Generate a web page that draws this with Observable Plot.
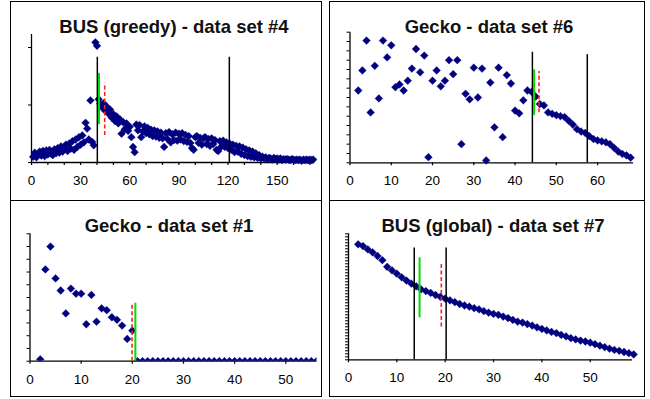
<!DOCTYPE html>
<html><head><meta charset="utf-8">
<script src="https://cdn.jsdelivr.net/npm/d3@7"></script>
<script src="https://cdn.jsdelivr.net/npm/@observablehq/plot@0.6"></script>
<style>
body{margin:0;background:#fff;}
#page{position:relative;width:650px;height:399px;overflow:hidden;font-family:"Liberation Sans",Arial,sans-serif;background:#fff;}
.panel{position:absolute;}
#overlay{position:absolute;left:0;top:0;pointer-events:none;}
</style></head><body><div id="page"></div>
<script>
// ---- titles ----
const titles = ["BUS (greedy) - data set #4", "Gecko - data set #6", "Gecko - data set #1", "BUS (global) - data set #7"];

// ---- BUS (greedy) - data set #4 (categories 1..172) ----
const bus4Start = 1;
const bus4Y = [
 0.10,0.17,0.09,0.15,0.19,0.12,0.20,0.11,0.21,0.14,
 0.22,0.15,0.13,0.23,0.16,0.25,0.17,0.28,0.19,0.27,
 0.31,0.20,0.33,0.24,0.37,0.22,0.40,0.27,0.44,0.31,
 0.47,0.35,0.69,0.59,0.40,1.08,0.36,0.30,2.09,2.03,
 1.10,1.02,0.96,1.03,0.90,0.97,0.85,0.92,0.78,0.84,
 0.72,0.80,0.68,0.75,0.50,0.70,0.58,0.68,0.55,0.62,
 0.44,0.27,0.18,0.66,0.56,0.65,0.44,0.54,0.63,0.51,
 0.60,0.49,0.57,0.46,0.56,0.45,0.54,0.43,0.52,0.42,
 0.27,0.51,0.41,0.53,0.35,0.49,0.39,0.52,0.38,0.50,
 0.40,0.51,0.37,0.48,0.36,0.46,0.34,0.25,0.22,0.44,
 0.46,0.34,0.43,0.31,0.42,0.44,0.32,0.41,0.29,0.42,
 0.32,0.39,0.22,0.20,0.37,0.28,0.38,0.27,0.35,0.25,
 0.33,0.22,0.31,0.18,0.29,0.19,0.28,0.15,0.26,0.13,
 0.23,0.11,0.21,0.10,0.19,0.09,0.16,0.08,0.13,0.07,
 0.10,0.07,0.09,0.06,0.08,0.07,0.05,0.08,0.06,0.07,
 0.05,0.07,0.04,0.06,0.05,0.06,0.05,0.04,0.06,0.05,
 0.04,0.05,0.04,0.05,0.03,0.05,0.04,0.05,0.04,0.05,
 0.04,0.05];
const bus4XTicks = [0,10,20,30,40,50,60,70,80,90,100,110,120,130,140,150,160,170];
const bus4XLabels = [0,30,60,90,120,150];
const bus4YTicks = [0,1,2];
const bus4Black = [{x:40.2,y1:0,y2:1.83},{x:120.8,y1:0,y2:1.83}];
const bus4Green = [{x:41.2,y1:0.66,y2:1.55}];
const bus4Red = [{x:44.7,y1:0.47,y2:1.38}];

// ---- Gecko - data set #6 (categories 2..68) ----
const gecko6Start = 2;
const gecko6Y = [
 7.75,9.9,13.1,5.4,10.4,6.9,13.1,11.3,12.6,8.1,
 8.4,7.75,8.8,10.1,12.2,9.7,11.5,0.6,8.8,9.9,
 8.2,8.8,11.0,9.5,11.0,2.0,7.4,6.8,10.2,7.0,
 10.1,0.25,8.6,3.8,10.2,2.75,9.4,8.5,5.6,5.3,
 6.7,7.75,7.6,7.1,6.3,6.15,5.4,5.25,5.1,5.0,
 4.9,4.5,4.1,3.6,3.35,3.2,2.85,2.55,2.4,2.3,
 2.2,2.0,1.6,1.2,0.95,0.8,0.55];
const gecko6XLabels = [0,10,20,30,40,50,60];
const gecko6YTicks = [0,1,2,3,4,5,6,7,8,9,10,11,12,13,14];
const gecko6Black = [{x:44.2,y1:0,y2:11.85},{x:57.5,y1:0,y2:11.6}];
const gecko6Green = [{x:44.6,y1:5.07,y2:9.97}];
const gecko6Red = [{x:45.8,y1:5.36,y2:9.8}];

// ---- Gecko - data set #1 (categories 2..56) ----
const gecko1Start = 2;
const gecko1Y = [
 0.15,7.2,9.0,6.5,5.55,3.75,5.7,5.3,5.3,2.9,
 5.2,3.1,4.15,4.0,3.45,3.25,2.8,1.75,2.4,0,
 0,0,0,0,0,0,0,0,0,0,
 0,0,0,0,0,0,0,0,0,0,
 0,0,0,0,0,0,0,0,0,0,
 0,0,0,0,0];
const gecko1XLabels = [0,10,20,30,40,50];
const gecko1YTicks = [0,1,2,3,4,5,6,7,8,9,10];
const gecko1Green = [{x:20.6,y1:0,y2:4.55}];
const gecko1Red = [{x:19.95,y1:0,y2:4.55}];

// ---- BUS (global) - data set #7 (categories 2..59) ----
const bus7Start = 2;
const bus7Y = [
 38.5,37.9,36.8,35.8,34.6,33.2,31.0,29.8,28.7,27.5,
 26.4,25.4,24.5,23.5,22.9,22.3,21.6,21.0,20.4,19.8,
 19.2,18.6,18.1,17.7,17.2,16.8,16.2,15.7,15.3,15.0,
 14.4,13.9,13.3,12.7,12.4,11.9,11.4,10.8,10.3,9.8,
 9.3,8.9,8.3,7.8,7.2,6.8,6.4,6.1,5.7,5.2,
 4.7,4.2,3.7,3.3,3.0,2.6,2.2,1.8];
const bus7XLabels = [0,10,20,30,40,50];
const bus7YTicks = d3.range(0, 43);
const bus7Black = [{x:13.6,y1:0,y2:37.3},{x:20.2,y1:0,y2:37.3}];
const bus7Green = [{x:14.7,y1:14.0,y2:34.0}];
const bus7Red = [{x:19.2,y1:10.9,y2:32.0}];

// ---- drawing ----
const page = document.getElementById("page");
const NAVY = "#000080";
const FONT = "Liberation Sans, Arial, sans-serif";

function toRows(start, ys) { return ys.map((y, i) => ({x: start + i, y})); }

function panel(o) {
  const marks = [
    Plot.ruleY([0], {stroke: "black", strokeWidth: 1.3}),
    Plot.ruleX([0], {stroke: "black", strokeWidth: 1.3}),
    Plot.axisX(o.xTicks, {anchor: "bottom", label: null, tickSize: 3, strokeWidth: 1.2, tickFormat: () => ""}),
    Plot.axisX(o.xLabels, {anchor: "bottom", label: null, tickSize: 0, tickPadding: 13, fontSize: 13.5, fill: "black", tickFormat: d => String(d)}),
    Plot.axisY(o.yTicks, {anchor: "left", label: null, tickSize: 3, strokeWidth: 1, tickFormat: () => ""}),
    Plot.dot(o.rows, {x: "x", y: "y", symbol: "diamond2", r: 3.5, fill: NAVY, stroke: NAVY, strokeWidth: 0.4, clip: o.clip || false}),
    Plot.ruleX(o.black || [], {x: "x", y1: "y1", y2: "y2", stroke: "black", strokeWidth: 1.5}),
    Plot.ruleX(o.green || [], {x: "x", y1: "y1", y2: "y2", stroke: "#00dd00", strokeWidth: 2}),
    Plot.ruleX(o.red || [], {x: "x", y1: "y1", y2: "y2", stroke: "#ff2020", strokeWidth: 1.6, strokeDasharray: "4,2.5"})
  ];
  const svg = Plot.plot({
    width: o.width, height: o.height,
    marginLeft: o.m[0], marginRight: o.m[1], marginTop: o.m[2], marginBottom: o.m[3],
    x: {domain: o.xDomain, axis: null, label: null},
    y: {domain: o.yDomain, axis: null, label: null},
    style: {background: "transparent", overflow: "visible", fontFamily: FONT, fontSize: "13.5px", color: "black"},
    marks
  });
  const div = document.createElement("div");
  div.className = "panel";
  div.style.left = o.left + "px"; div.style.top = o.top + "px";
  div.style.width = o.width + "px"; div.style.height = o.height + "px";
  div.appendChild(svg);
  page.appendChild(div);
}

panel({left: 11, top: 2, width: 309, height: 197, m: [20, 6.5, 32, 37],
  xDomain: [0, 172.5], yDomain: [0, 2.226],
  rows: toRows(bus4Start, bus4Y), xTicks: bus4XTicks, xLabels: bus4XLabels, yTicks: bus4YTicks,
  black: bus4Black, green: bus4Green, red: bus4Red});

panel({left: 330, top: 2, width: 313, height: 197, m: [19.5, 10, 29.7, 36.7],
  xDomain: [0, 68.7], yDomain: [0, 14],
  rows: toRows(gecko6Start, gecko6Y), xTicks: gecko6XLabels, xLabels: gecko6XLabels, yTicks: gecko6YTicks,
  black: gecko6Black, green: gecko6Green, red: gecko6Red});

panel({left: 11, top: 201, width: 309, height: 195, m: [18.5, 3.5, 32.3, 35.3],
  xDomain: [0, 56.1], yDomain: [0, 10],
  rows: toRows(gecko1Start, gecko1Y), xTicks: gecko1XLabels, xLabels: gecko1XLabels, yTicks: gecko1YTicks,
  green: gecko1Green, red: gecko1Red, clip: true});

panel({left: 330, top: 201, width: 313, height: 195, m: [18, 11, 32.3, 36.7],
  xDomain: [0, 58.75], yDomain: [0, 42],
  rows: toRows(bus7Start, bus7Y), xTicks: bus7XLabels, xLabels: bus7XLabels, yTicks: bus7YTicks,
  black: bus7Black, green: bus7Green, red: bus7Red});

// ---- frames and titles ----
const ov = d3.select(page).append("svg").attr("id", "overlay").attr("width", 650).attr("height", 399);
const boxes = [[10.5, 1.5, 321.5, 200.5], [329.5, 1.5, 644.5, 200.5], [10.5, 200.5, 321.5, 396.5], [329.5, 200.5, 644.5, 396.5]];
boxes.forEach(b => ov.append("rect").attr("x", b[0]).attr("y", b[1]).attr("width", b[2] - b[0]).attr("height", b[3] - b[1])
  .attr("fill", "none").attr("stroke", "black").attr("stroke-width", 1));
const titlePos = [[174, 33], [489, 33], [169, 231.5], [493, 231.5]];
titles.forEach((t, i) => ov.append("text").attr("x", titlePos[i][0]).attr("y", titlePos[i][1])
  .attr("text-anchor", "middle").attr("font-family", FONT).attr("font-weight", "bold").attr("font-size", 18.5)
  .attr("fill", "#111").text(t));
</script></body></html>
